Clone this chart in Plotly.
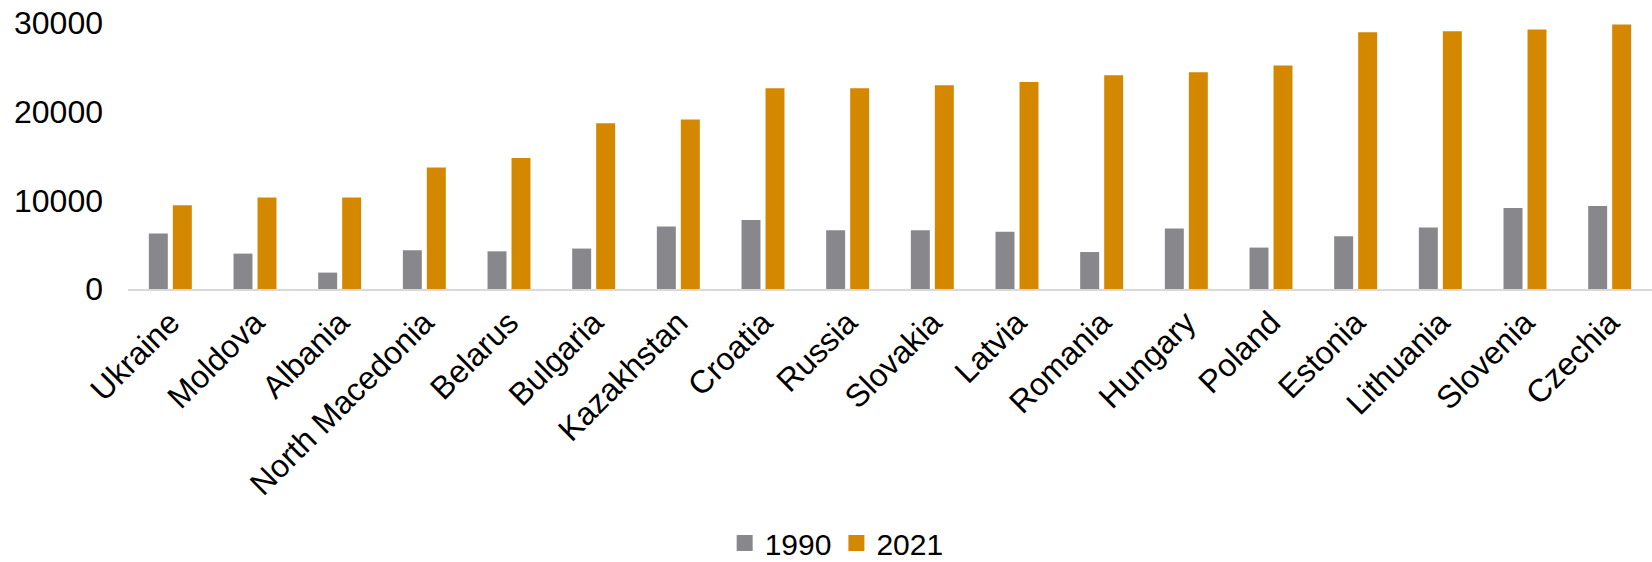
import plotly.graph_objects as go

countries = ["Ukraine", "Moldova", "Albania", "North Macedonia", "Belarus", "Bulgaria",
             "Kazakhstan", "Croatia", "Russia", "Slovakia", "Latvia", "Romania",
             "Hungary", "Poland", "Estonia", "Lithuania", "Slovenia", "Czechia"]
values_1990 = [6250, 3990, 1850, 4370, 4250, 4560, 7040, 7780, 6620, 6620, 6470, 4170,
               6810, 4670, 5940, 6930, 9140, 9360]
values_2021 = [9440, 10310, 10310, 13690, 14780, 18690, 19110, 22640, 22640, 22980, 23350,
               24110, 24440, 25200, 28960, 29070, 29260, 29830]
y_ticks = [0, 10000, 20000, 30000]
series = [("1990", values_1990, "#88878c"), ("2021", values_2021, "#d48800")]

FONT = "Liberation Sans, Arial, sans-serif"

fig = go.Figure()
for name, vals, color in series:
    fig.add_trace(go.Bar(x=countries, y=vals, name=name, showlegend=False,
                         marker=dict(color=color, line=dict(width=0))))
# legend keys drawn as larger square swatches
for name, vals, color in series:
    fig.add_trace(go.Scatter(x=[None], y=[None], mode="markers", name=name,
                             marker=dict(symbol="square", size=16, color=color)))

fig.update_layout(
    width=1652, height=562,
    margin=dict(l=128, r=0, t=23, b=273, pad=0, autoexpand=False),
    paper_bgcolor="white", plot_bgcolor="white",
    barmode="group", bargap=0.433, bargroupgap=0.21,
    font=dict(family=FONT, size=32, color="black"),
    showlegend=True,
    legend=dict(orientation="h", xref="paper", yref="paper",
                x=0.465, xanchor="center", y=-0.955, yanchor="middle",
                font=dict(size=30), itemwidth=30, traceorder="normal"),
)
fig.update_xaxes(tickangle=-45, showline=True, linecolor="#d9d9d9", linewidth=2,
                 showgrid=False, ticks="", tickfont=dict(size=32), automargin=False)
fig.update_yaxes(range=[0, 30000], tickvals=y_ticks, ticktext=[str(v) for v in y_ticks],
                 showgrid=False, zeroline=False, showline=False, ticks="",
                 ticklabelstandoff=24, tickfont=dict(size=32), automargin=False)

fig.write_html("out.html")
